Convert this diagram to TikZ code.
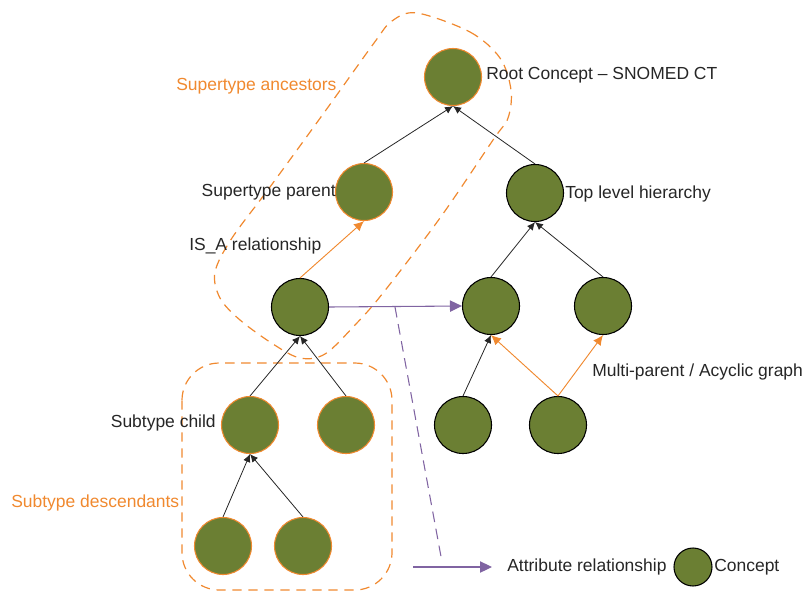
\documentclass[tikz,border=0pt]{standalone}
\usepackage{fontspec}
\setmainfont{Liberation Sans}
\usetikzlibrary{arrows.meta}
\definecolor{cgreen}{HTML}{6B7F33}
\definecolor{corange}{HTML}{F0892F}
\definecolor{cpurple}{HTML}{8064A2}
\definecolor{ctext}{HTML}{262626}
\begin{document}
\begin{tikzpicture}[x=0.75pt,y=-0.75pt,
 concept/.style={circle,fill=cgreen,minimum size=42.75pt,inner sep=0pt,draw=black,line width=0.8pt},
 oconcept/.style={concept,draw=corange},
 lbl/.style={font=\fontsize{13.1pt}{15pt}\selectfont,text=ctext,inner sep=0pt},
 olbl/.style={lbl,text=corange},
 blk/.style={-{Latex[length=6pt,width=5.5pt]},line width=0.6pt,draw=ctext},
 org/.style={-{Latex[length=7.5pt,width=7pt]},line width=0.7pt,draw=corange},
 pur/.style={-{Triangle[length=9pt,width=8.5pt]},line width=0.8pt,draw=cpurple},
 grp/.style={draw=corange,dash pattern=on 7pt off 5pt,line width=0.9pt}
]
\useasboundingbox (0,0) rectangle (807,594);
% group outlines
\draw[grp,rounded corners=28pt] (182,363) rectangle (392,590);
\draw[grp] plot[smooth cycle,tension=0.55] coordinates {
 (417,13) (470,32) (500,58) (511,90) (508,118) (493,140) (440,218) (383,293)
 (355,325) (325,354) (300,358) (273,344) (240,320) (220,298) (215,272) (232,238)
 (270,187) (326,110) (374,43) (392,21)};
% concepts
\node[oconcept] (root) at (453,77) {};
\node[oconcept] (sp) at (364,192) {};
\node[concept] (tl) at (535,193) {};
\node[concept] (isa) at (300,307) {};
\node[concept] (m1) at (491,306) {};
\node[concept] (m2) at (603,306) {};
\node[concept] (b1) at (463,425) {};
\node[concept] (b2) at (558,425) {};
\node[oconcept] (sc) at (250,425) {};
\node[oconcept] (ss) at (346,425) {};
\node[oconcept] (d1) at (223,546) {};
\node[oconcept] (d2) at (303,546) {};
\node[concept,minimum size=28.5pt] (lc) at (693,567) {};
% labels
\node[lbl,anchor=west] (lroot) at (486,75) {Root Concept – SNOMED CT};
\node[olbl,anchor=west] (lsa) at (176,86) {Supertype ancestors};
\node[lbl,anchor=east] (lsp) at (336,192) {Supertype parent};
\node[lbl,anchor=west] (lisa) at (189,246) {IS\_A relationship};
\node[lbl,anchor=west] (ltl) at (565,194) {Top level hierarchy};
\node[lbl,anchor=west] (lmp) at (592,372) {Multi-parent / Acyclic graph};
\node[lbl,anchor=east] (lsc) at (216,423) {Subtype child};
\node[olbl,anchor=west] (lsd) at (11,503) {Subtype descendants};
\node[lbl,anchor=west] (lar) at (507,567) {Attribute relationship};
\node[lbl,anchor=west] (lcon) at (714,567) {Concept};
% IS_A edges
\draw[blk] (sp.north) -- (root.south);
\draw[blk] (tl.north) -- (root.south);
\draw[org] (isa.north) -- (sp.south);
\draw[blk] (m1.north) -- (tl.south);
\draw[blk] (m2.north) -- (tl.south);
\draw[blk] (sc.north) -- (isa.south);
\draw[blk] (ss.north) -- (isa.south);
\draw[blk] (d1.north) -- (sc.south);
\draw[blk] (d2.north) -- (sc.south);
\draw[blk] (b1.north) -- (m1.south);
\draw[org] (b2.north) -- (m1.south);
\draw[org] (b2.north) -- (m2.south);
% attribute relationship
\draw[pur] (isa.east) -- (m1.west);
\coordinate (ds) at (395,307);
\coordinate (de) at (442,562);
\draw[cpurple,line width=0.8pt,dash pattern=on 8pt off 5pt] (ds) -- (de);
\coordinate (la) at (413,567);
\coordinate (lb) at (492,567);
\draw[pur] (la) -- (lb);
\end{tikzpicture}
\end{document}
